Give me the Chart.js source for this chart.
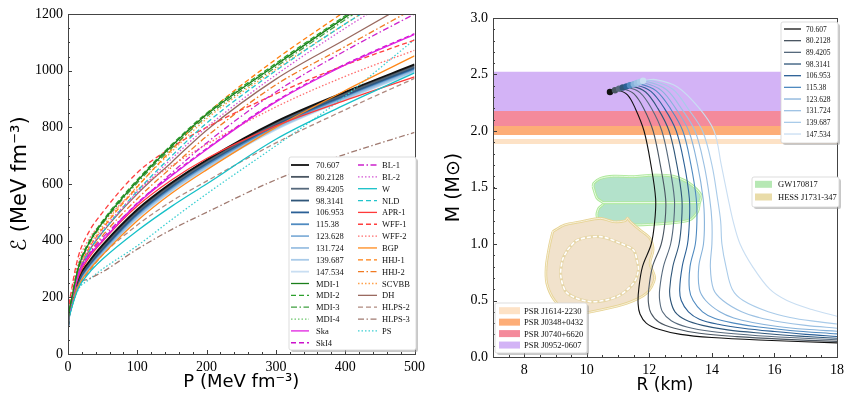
<!DOCTYPE html>
<html>
<head>
<meta charset="utf-8">
<script src="https://cdn.jsdelivr.net/npm/chart.js@4.4.1/dist/chart.umd.min.js"></script>
<style>
  body { margin: 0; background: #fff; }
  #wrap { position: relative; width: 849px; height: 396px; }
  canvas { position: absolute; top: 0; }
  #leg { position: absolute; left: 0; top: 0; pointer-events: none; }
</style>
</head>
<body>
<div id="wrap">
  <canvas id="eos" width="430" height="396" style="left:0"></canvas>
  <canvas id="mr" width="419" height="396" style="left:430px"></canvas>
  <svg id="leg" width="849" height="396"></svg>
</div>
<script>
// ---------- left panel: energy density vs pressure ----------
const P = [0, 1, 5, 15, 30, 50, 100, 150, 200, 300, 400, 500];

const bandLabels = ['70.607', '80.2128', '89.4205', '98.3141', '106.953', '115.38', '123.628', '131.724', '139.687', '147.534'];
const bandColors = ['#111111', '#4a5662', '#56697c', '#2f5679', '#2b6096', '#4f8ac0', '#86b2da', '#9cc1e3', '#a9cbe9', '#c9def2'];
const bandE = [
  [90, 128, 182, 268, 325, 385, 510, 605, 685, 820, 925, 1022],
  [90, 127, 180, 265, 322, 381, 506, 602, 682, 817, 922, 1019],
  [90, 126, 178, 262, 319, 378, 503, 598, 678, 814, 919, 1016],
  [90, 125, 176, 259, 316, 374, 499, 595, 675, 811, 916, 1013],
  [90, 124, 174, 256, 313, 370, 496, 592, 672, 808, 913, 1010],
  [90, 123, 172, 253, 310, 367, 492, 588, 668, 804, 910, 1007],
  [90, 122, 170, 250, 306, 363, 489, 585, 665, 801, 907, 1004],
  [90, 121, 168, 247, 303, 359, 485, 582, 662, 798, 904, 1001],
  [90, 120, 166, 244, 300, 356, 482, 578, 658, 795, 901, 998],
  [90, 119, 164, 241, 297, 352, 478, 575, 655, 792, 898, 995]
];

const mdi1  = [90, 135, 190, 305, 390, 465, 610, 735, 845, 1020, 1188, 1350];
const mdi2  = [90, 136, 193, 310, 395, 470, 615, 740, 850, 1026, 1194, 1358];
const mdi3  = [90, 134, 188, 302, 386, 460, 604, 728, 838, 1013, 1180, 1342];
const mdi4  = [90, 135, 191, 307, 392, 467, 612, 737, 847, 1023, 1191, 1354];
const ska   = [90, 130, 185, 280, 345, 400, 530, 630, 722, 890, 1020, 1128];
const ski4  = [90, 131, 187, 283, 348, 403, 533, 633, 725, 893, 1023, 1131];
const bl1   = [90, 130, 183, 280, 350, 410, 530, 640, 745, 925, 1070, 1200];
const bl2   = [90, 132, 188, 292, 370, 438, 570, 690, 800, 985, 1150, 1300];
const w     = [90, 118, 160, 232, 285, 335, 435, 522, 600, 758, 880, 992];
const nld   = [90, 128, 180, 280, 360, 430, 575, 700, 815, 1000, 1165, 1315];
const apr1  = [90, 128, 180, 272, 338, 398, 522, 615, 690, 805, 895, 978];
const wff1  = [90, 150, 225, 345, 430, 500, 640, 730, 800, 918, 1020, 1108];
const wff2  = [90, 145, 212, 325, 405, 465, 580, 665, 740, 872, 980, 1072];
const bgp   = [90, 120, 165, 240, 295, 350, 470, 568, 650, 800, 930, 1052];
const hhj1  = [90, 130, 183, 290, 372, 443, 590, 722, 847, 1040, 1210, 1385];
const hhj2  = [90, 128, 180, 278, 352, 418, 548, 660, 768, 950, 1085, 1220];
const scvbb = [90, 132, 188, 295, 378, 450, 592, 715, 830, 1005, 1165, 1320];
const dh    = [90, 130, 185, 285, 362, 430, 565, 678, 790, 970, 1110, 1250];
const hlps2 = [90, 122, 175, 240, 290, 350, 455, 540, 610, 745, 862, 973];
const hlps3 = [90, 122, 175, 245, 265, 290, 370, 440, 500, 615, 705, 782];
const ps    = [90, 118, 160, 228, 262, 300, 382, 475, 565, 735, 910, 1110];

// label, values, colour, line style
const namedEos = [
  ['MDI-1', mdi1, '#1b7f1b', 'solid'],
  ['MDI-2', mdi2, '#2ca02c', 'dashed'],
  ['MDI-3', mdi3, '#3f9f3f', 'dashdot'],
  ['MDI-4', mdi4, '#6cc66c', 'dotted'],
  ['Ska', ska, '#e020e0', 'solid'],
  ['SkI4', ski4, '#cc11cc', 'dashed'],
  ['BL-1', bl1, '#cc22cc', 'dashdot'],
  ['BL-2', bl2, '#d455d4', 'dotted'],
  ['W', w, '#16c0c8', 'solid'],
  ['NLD', nld, '#22c4cc', 'dashed'],
  ['APR-1', apr1, '#ff3a3a', 'solid'],
  ['WFF-1', wff1, '#ff3f3f', 'dashed'],
  ['WFF-2', wff2, '#ff6d6d', 'dotted'],
  ['BGP', bgp, '#ff8a1c', 'solid'],
  ['HHJ-1', hhj1, '#ff7f0e', 'dashed'],
  ['HHJ-2', hhj2, '#f07a22', 'dashdot'],
  ['SCVBB', scvbb, '#ffa04a', 'dotted'],
  ['DH', dh, '#9a6a60', 'solid'],
  ['HLPS-2', hlps2, '#b08a80', 'dashed'],
  ['HLPS-3', hlps3, '#a07a70', 'dashdot'],
  ['PS', ps, '#3ccfd2', 'dotted']
];

const dashes = { solid: [], dashed: [5, 3], dashdot: [6, 2.5, 1.5, 2.5], dotted: [1.5, 2] };

// ---------- right panel: mass vs radius ----------
const mrCurves = [
  [[10.74,2.345],[11.0,2.358],[11.3,2.32],[11.55,2.2],[11.83,2.0],[12.05,1.7],[12.2,1.4],[12.17,1.2],[12.06,1.0],[11.78,0.8],[11.66,0.6],[11.64,0.47],[11.7,0.38],[11.9,0.3],[12.3,0.245],[13.0,0.2],[14.0,0.172],[15.5,0.15],[18,0.125]],
  [[10.9,2.36],[11.15,2.372],[11.5,2.33],[11.82,2.2],[12.12,2.0],[12.35,1.7],[12.52,1.4],[12.5,1.2],[12.38,1.0],[12.1,0.8],[11.98,0.6],[11.97,0.48],[12.05,0.39],[12.3,0.31],[12.8,0.255],[13.6,0.21],[14.8,0.18],[16.2,0.158],[18,0.138]],
  [[11.03,2.375],[11.3,2.385],[11.7,2.34],[12.07,2.2],[12.4,2.0],[12.64,1.7],[12.8,1.4],[12.78,1.2],[12.68,1.0],[12.45,0.8],[12.33,0.6],[12.33,0.5],[12.42,0.4],[12.7,0.32],[13.2,0.265],[14.0,0.225],[15.2,0.195],[16.5,0.172],[18,0.152]],
  [[11.15,2.385],[11.45,2.395],[11.88,2.345],[12.27,2.2],[12.63,2.0],[12.88,1.7],[13.04,1.4],[13.03,1.2],[12.95,1.0],[12.75,0.8],[12.65,0.6],[12.68,0.5],[12.82,0.4],[13.15,0.33],[13.7,0.28],[14.5,0.24],[15.6,0.21],[16.8,0.185],[18,0.166]],
  [[11.27,2.395],[11.58,2.405],[12.05,2.35],[12.48,2.2],[12.86,2.0],[13.12,1.7],[13.28,1.4],[13.28,1.2],[13.22,1.0],[13.05,0.8],[12.97,0.6],[13.02,0.5],[13.25,0.4],[13.6,0.335],[14.2,0.29],[15.0,0.255],[16.0,0.225],[17.0,0.2],[18,0.182]],
  [[11.38,2.405],[11.7,2.415],[12.22,2.355],[12.67,2.2],[13.07,2.0],[13.33,1.7],[13.5,1.4],[13.52,1.2],[13.47,1.0],[13.3,0.8],[13.28,0.6],[13.4,0.5],[13.7,0.4],[14.1,0.34],[14.7,0.3],[15.5,0.265],[16.5,0.235],[18,0.205]],
  [[11.5,2.415],[11.83,2.425],[12.38,2.36],[12.84,2.2],[13.26,2.0],[13.54,1.7],[13.72,1.4],[13.76,1.2],[13.73,1.0],[13.58,0.8],[13.6,0.6],[13.8,0.5],[14.25,0.4],[14.7,0.345],[15.3,0.305],[16.1,0.27],[17.0,0.245],[18,0.228]],
  [[11.6,2.425],[11.95,2.435],[12.55,2.365],[13.02,2.2],[13.46,2.0],[13.75,1.7],[13.93,1.4],[14.0,1.2],[14.0,1.0],[13.95,0.8],[14.05,0.6],[14.35,0.5],[14.95,0.4],[15.5,0.35],[16.2,0.31],[17.0,0.28],[18,0.255]],
  [[11.7,2.435],[12.08,2.445],[12.75,2.37],[13.23,2.2],[13.7,2.0],[14.0,1.7],[14.18,1.4],[14.28,1.2],[14.32,1.0],[14.45,0.8],[14.65,0.6],[15.0,0.5],[15.8,0.4],[16.5,0.35],[17.3,0.315],[18,0.292]],
  [[11.8,2.445],[12.2,2.455],[12.9,2.39],[13.6,2.2],[14.07,2.0],[14.3,1.7],[14.52,1.4],[14.68,1.2],[14.9,1.0],[15.3,0.8],[15.85,0.6],[16.4,0.5],[17.2,0.42],[18,0.36]]
];

const psrLabels = ['PSR J1614-2230', 'PSR J0348+0432', 'PSR J0740+6620', 'PSR J0952-0607'];
const psrLow  = [1.885, 1.965, 2.01, 2.177];
const psrHigh = [1.929, 2.045, 2.177, 2.525];
const psrColors = ['#fde2c6', '#fdad77', '#f48a9b', '#d3b3f6'];

const gwContour = [[10.2,1.507],[10.22,1.537],[10.43,1.58],[10.86,1.6],[11.49,1.596],[12.12,1.61],[12.75,1.6],[13.28,1.537],[13.65,1.434],[13.6,1.36],[13.54,1.286],[13.28,1.212],[12.54,1.183],[11.49,1.168],[10.54,1.168],[10.33,1.242],[10.38,1.316],[10.54,1.36],[10.33,1.404],[10.2,1.507]];
const gwSplit = [[10.5,1.366],[13.62,1.366]];
const hessOuter = [[8.91,1.109],[9.28,1.168],[9.8,1.197],[10.44,1.227],[10.86,1.197],[11.23,1.206],[11.3,1.23],[11.38,1.2],[11.7,1.124],[12.02,1.05],[12.12,0.947],[12.02,0.829],[12.17,0.696],[11.91,0.564],[11.28,0.475],[10.43,0.416],[9.8,0.386],[9.38,0.401],[8.96,0.504],[8.72,0.652],[8.7,0.8],[8.8,0.976],[8.91,1.109]];
const hessInner = [[9.38,0.947],[9.7,1.035],[10.44,1.065],[11.07,1.006],[11.49,0.947],[11.6,0.86],[11.65,0.77],[11.49,0.652],[10.96,0.534],[10.12,0.49],[9.38,0.564],[9.17,0.711],[9.22,0.858],[9.38,0.947]];
const obsLabels = ['GW170817', 'HESS J1731-347'];
const obsColors = ['#b6e8b4', '#e9dca9'];

// frame and inward ticks, like matplotlib
const frameTicks = {
  id: 'frameTicks',
  afterDraw(chart, args, o) {
    const {ctx, chartArea: a} = chart;
    ctx.save();
    ctx.strokeStyle = '#3c3c3c';
    ctx.lineWidth = 1;
    ctx.beginPath();
    const mark = (scale, values, len) => {
      values.forEach(v => {
        const p = Math.round(scale.getPixelForValue(v)) + 0.5;
        if (scale.isHorizontal()) { ctx.moveTo(p, a.bottom); ctx.lineTo(p, a.bottom - len); }
        else { ctx.moveTo(a.left, p); ctx.lineTo(a.left + len, p); }
      });
    };
    ['x', 'y'].forEach(id => {
      const s = chart.scales[id];
      const minor = [];
      for (let v = s.min; v <= s.max + 1e-9; v += o[id + 'Minor']) minor.push(v);
      mark(s, minor, 2);
      mark(s, s.ticks.map(t => t.value), 4);
    });
    ctx.stroke();
    ctx.strokeStyle = '#444';
    ctx.strokeRect(Math.round(a.left) + 0.5, Math.round(a.top) + 0.5, Math.round(a.right - a.left), Math.round(a.bottom - a.top));
    ctx.restore();
  }
};

const tickFont = { family: 'Liberation Serif', size: 14 };
function axis(opts) {
  return Object.assign({
    type: 'linear',
    grid: { display: false, drawTicks: false },
    border: { display: false },
  }, opts);
}

// left chart
const eosSets = [];
namedEos.forEach(([label, vals, color, style]) => {
  eosSets.push({
    label, data: P.map((p, i) => ({ x: p, y: vals[i] })),
    borderColor: color, borderWidth: 1.3, borderDash: dashes[style],
    pointRadius: 0, cubicInterpolationMode: 'monotone', fill: false
  });
});
bandE.forEach((vals, k) => {
  eosSets.push({
    label: bandLabels[k], data: P.map((p, i) => ({ x: p, y: vals[i] })),
    borderColor: bandColors[k], borderWidth: 1.8,
    pointRadius: 0, cubicInterpolationMode: 'monotone', fill: false
  });
});

new Chart(document.getElementById('eos'), {
  type: 'line',
  data: { datasets: eosSets },
  plugins: [frameTicks],
  options: {
    responsive: false, animation: false,
    layout: { padding: { left: 0, right: 12, top: 14, bottom: 0 } },
    plugins: { legend: { display: false }, tooltip: { enabled: false },
      frameTicks: { xMinor: 20, yMinor: 50 } },
    scales: {
      x: axis({ min: 0, max: 500, afterFit(s) { s.height = 42; },
        ticks: { stepSize: 100, padding: 5, color: '#000', font: tickFont, maxRotation: 0, callback: v => String(v) },
        title: { display: true, text: 'P (MeV fm⁻³)', color: '#000',
          font: { family: 'DejaVu Sans', size: 18 }, padding: { top: 0, bottom: 3 } } }),
      y: axis({ min: 0, max: 1200, afterFit(s) { s.width = 68; },
        ticks: { stepSize: 200, padding: 5, color: '#000', font: tickFont, callback: v => String(v) },
        title: { display: true, text: 'ℰ (MeV fm⁻³)', color: '#000',
          font: { family: 'DejaVu Sans', size: 21 }, padding: { top: 8, bottom: 0 } } })
    }
  }
});

// right chart
const mrSets = [];
mrSets.push({
  label: 'maxima', data: mrCurves.map(c => ({ x: c[0][0], y: c[0][1] })),
  showLine: false, pointRadius: 3.2, pointBorderWidth: 0,
  pointBackgroundColor: bandColors, pointBorderColor: bandColors
});
mrCurves.forEach((c, k) => {
  mrSets.push({
    label: bandLabels[k], data: c.map(([r, m]) => ({ x: r, y: m })),
    borderColor: bandColors[k], borderWidth: 1.1, pointRadius: 0, tension: 0.35, fill: false
  });
});
mrSets.push({ label: 'hess-in-white', data: hessInner.map(([r, m]) => ({ x: r, y: m })),
  borderColor: '#ffffff', borderWidth: 1.6, borderDash: [4, 2], pointRadius: 0, tension: 0.3, fill: false });
mrSets.push({ label: 'hess-in', data: hessInner.map(([r, m]) => ({ x: r, y: m })),
  borderColor: '#e6d6a8', borderWidth: 3, pointRadius: 0, tension: 0.3, fill: false });
mrSets.push({ label: 'hess-edge', data: hessOuter.map(([r, m]) => ({ x: r, y: m })),
  borderColor: '#fbf6ea', borderWidth: 0.8, pointRadius: 0, tension: 0.3, fill: false });
mrSets.push({ label: obsLabels[1], data: hessOuter.map(([r, m]) => ({ x: r, y: m })),
  borderColor: '#e6d394', borderWidth: 2.6, backgroundColor: '#f1e2cc', pointRadius: 0, tension: 0.3, fill: 'shape' });
mrSets.push({ label: 'gw-split-white', data: gwSplit.map(([r, m]) => ({ x: r, y: m })),
  borderColor: '#f2fbf4', borderWidth: 1, pointRadius: 0, fill: false });
mrSets.push({ label: 'gw-split', data: gwSplit.map(([r, m]) => ({ x: r, y: m })),
  borderColor: '#aee99b', borderWidth: 3, pointRadius: 0, fill: false });
mrSets.push({ label: 'gw-edge', data: gwContour.map(([r, m]) => ({ x: r, y: m })),
  borderColor: '#f4fcf2', borderWidth: 0.8, pointRadius: 0, tension: 0.3, fill: false });
mrSets.push({ label: obsLabels[0], data: gwContour.map(([r, m]) => ({ x: r, y: m })),
  borderColor: '#aee99b', borderWidth: 2.8, backgroundColor: '#b3e2cb', pointRadius: 0, tension: 0.3, fill: 'shape' });
[0, 1, 2, 3].forEach(i => {
  mrSets.push({
    label: psrLabels[i], data: [{ x: 7, y: psrHigh[i] }, { x: 18, y: psrHigh[i] }],
    borderWidth: 0, pointRadius: 0, backgroundColor: psrColors[i], fill: { value: psrLow[i] }
  });
});

new Chart(document.getElementById('mr'), {
  type: 'line',
  data: { datasets: mrSets },
  plugins: [frameTicks],
  options: {
    responsive: false, animation: false,
    layout: { padding: { left: 0, right: 8, top: 18, bottom: 0 } },
    plugins: { legend: { display: false }, tooltip: { enabled: false },
      frameTicks: { xMinor: 0.5, yMinor: 0.1 } },
    scales: {
      x: axis({ min: 7, max: 18, afterFit(s) { s.height = 39; },
        ticks: { stepSize: 2, includeBounds: false, padding: 5, color: '#000', font: tickFont, maxRotation: 0, callback: v => String(v) },
        title: { display: true, text: 'R (km)', color: '#000',
          font: { family: 'DejaVu Sans', size: 17 }, padding: { top: 0, bottom: 0 } } }),
      y: axis({ min: 0, max: 3, afterFit(s) { s.width = 63; },
        ticks: { stepSize: 0.5, padding: 5, color: '#000', font: tickFont, callback: v => v.toFixed(1) },
        title: { display: true, text: 'M (M⊙)', color: '#000',
          font: { family: 'DejaVu Sans', size: 19 }, padding: { top: 13, bottom: 0 } } })
    }
  }
});

// ---------- legends (svg overlay) ----------
const svg = document.getElementById('leg');
const NS = 'http://www.w3.org/2000/svg';
function el(tag, attrs) {
  const e = document.createElementNS(NS, tag);
  for (const k in attrs) e.setAttribute(k, attrs[k]);
  svg.appendChild(e);
  return e;
}
function box(x, y, wd, ht) {
  el('rect', { x: x + 2, y: y + 2, width: wd, height: ht, rx: 2, fill: '#9a9a9a', 'fill-opacity': 0.55 });
  el('rect', { x, y, width: wd, height: ht, rx: 2, fill: '#fff', stroke: '#d4d4d4', 'stroke-width': 0.8 });
}
function sample(x1, x2, y, color, dash, width) {
  el('line', { x1, y1: y, x2, y2: y, stroke: color, 'stroke-width': width, 'stroke-dasharray': dash.join(' ') || 'none' });
}
function label(x, y, txt, size) {
  const t = el('text', { x, y, 'font-family': 'Liberation Serif', 'font-size': size, fill: '#111', 'dominant-baseline': 'central' });
  t.textContent = txt;
}

// left legend, two columns
box(289, 157, 127, 193);
const col1 = bandLabels.map((l, k) => [l, bandColors[k], 'solid', 1.8]).concat(
  namedEos.slice(0, 6).map(n => [n[0], n[2], n[3], 1.3]));
const col2 = namedEos.slice(6).map(n => [n[0], n[2], n[3], 1.3]);
col1.forEach(([l, c, s, lw], i) => { const y = 165 + i * 11.85; sample(291, 309, y, c, dashes[s], lw); label(316, y, l, 8.5); });
col2.forEach(([l, c, s, lw], i) => { const y = 165 + i * 11.85; sample(358, 377, y, c, dashes[s], lw); label(382, y, l, 8.5); });

// right top legend
box(781, 22, 57, 121);
bandLabels.forEach((l, k) => { const y = 29 + k * 11.67; sample(784, 801, y, bandColors[k], [], 1.3); label(806, y, l, 7.5); });

// pulsar legend
box(495, 303, 92, 50);
psrLabels.forEach((l, i) => {
  const y = 310.7 + i * 11.45;
  el('rect', { x: 499, y: y - 3.5, width: 21, height: 7, fill: psrColors[i] });
  label(524, y, l, 8.5);
});

// GW / HESS legend
box(752, 177, 87, 30);
obsLabels.forEach((l, i) => {
  const y = 184.3 + i * 12.7;
  el('rect', { x: 755, y: y - 3.5, width: 17, height: 7, fill: obsColors[i] });
  label(778, y, l, 8.5);
});
</script>
</body>
</html>
